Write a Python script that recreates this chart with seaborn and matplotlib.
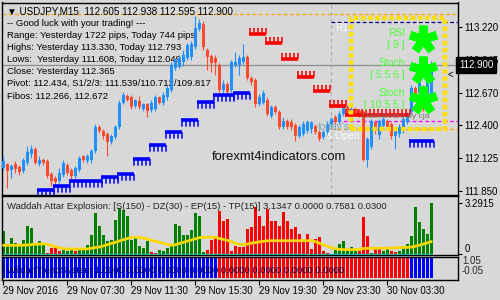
import numpy as np
import matplotlib
matplotlib.use("Agg")
import matplotlib.pyplot as plt
import seaborn as sns
from matplotlib.patches import Rectangle
from matplotlib.transforms import blended_transform_factory

# ---------------- data ----------------
symbol_title = "\u25BC USDJPY,M15  112.605 112.938 112.595 112.900"
info_lines = [
    "-- Good luck with your trading! ---",
    "Range: Yesterday 1722 pips, Today 744 pips",
    "Highs: Yesterday 113.330, Today 112.793",
    "Lows:  Yesterday 111.608, Today 112.049",
    "Close: Yesterday 112.365",
    "Pivot: 112.434, S1/2/3: 111.539/110.712/109.817",
    "Fibos: 112.266, 112.672",
]
opens = [112.038,112.070,112.021,112.070,112.046,112.013,112.078,112.160,112.202,112.070,
         112.103,112.095,111.988,111.955,111.931,111.980,112.062,112.021,111.972,112.021,
         112.136,112.095,112.103,112.185,112.382,112.349,112.325,112.259,112.300,112.382,
         112.587,112.645,112.629,112.555,112.596,112.530,112.571,112.522,112.530,112.629,
         112.579,112.629,112.694,112.875,112.883,112.924,112.957,112.965,113.047,113.203,
         113.244,113.023,112.973,112.957,112.899,112.694,112.743,112.694,112.899,112.899,
         112.924,112.965,112.793,112.776,112.571,112.587,112.612,112.472,112.546,112.505,
         112.382,112.431,112.423,112.399,112.308,112.325,112.349,112.366,112.390,112.341,
         112.300,112.341,112.407,112.464,112.423,112.489,112.546,112.505,112.530,112.513,
         112.505,112.103,112.218,112.423,112.316,112.390,112.431,112.407,112.308,112.325,
         112.349,112.423,112.505,112.710,112.670,112.719,112.555,112.605]
closes = [112.095,112.013,112.054,112.029,112.004,112.103,112.177,112.202,112.078,112.103,
          112.078,111.972,111.931,111.922,111.996,112.078,111.996,111.972,112.038,112.119,
          112.103,112.136,112.185,112.382,112.349,112.308,112.259,112.308,112.382,112.587,
          112.653,112.612,112.546,112.604,112.546,112.571,112.513,112.587,112.637,112.587,
          112.653,112.710,112.899,112.940,112.957,112.981,113.064,113.080,113.211,113.252,
          113.047,112.965,112.916,112.916,112.694,112.743,112.678,112.924,112.924,112.957,
          112.965,112.793,112.760,112.571,112.637,112.670,112.489,112.546,112.505,112.382,
          112.431,112.382,112.382,112.308,112.382,112.407,112.423,112.423,112.341,112.284,
          112.341,112.407,112.448,112.423,112.489,112.546,112.505,112.530,112.497,112.489,
          112.103,112.284,112.431,112.349,112.431,112.448,112.382,112.308,112.349,112.382,
          112.448,112.489,112.710,112.637,112.801,112.530,112.883,112.900]
highs = [112.144,112.078,112.070,112.095,112.062,112.119,112.226,112.234,112.218,112.136,
         112.119,112.111,112.004,111.972,112.038,112.103,112.078,112.038,112.054,112.144,
         112.152,112.160,112.202,112.407,112.399,112.366,112.341,112.325,112.399,112.612,
         112.678,112.661,112.653,112.620,112.645,112.587,112.587,112.612,112.653,112.645,
         112.678,112.735,112.924,112.957,112.981,113.023,113.088,113.105,113.310,113.285,
         113.269,113.039,112.990,112.981,112.916,112.776,112.760,112.940,113.006,112.981,
         113.080,112.981,112.809,112.793,112.661,112.694,112.629,112.563,112.563,112.522,
         112.464,112.448,112.448,112.415,112.399,112.431,112.440,112.431,112.407,112.358,
         112.358,112.431,112.464,112.481,112.513,112.571,112.563,112.546,112.546,112.530,
         112.522,112.300,112.448,112.440,112.448,112.464,112.448,112.423,112.374,112.407,
         112.464,112.505,112.735,112.727,112.817,112.735,112.899,112.938]
lows = [112.021,111.873,111.955,111.996,111.980,111.996,112.062,112.119,112.070,112.054,
        112.062,111.955,111.890,111.906,111.914,111.963,111.980,111.947,111.955,112.004,
        112.087,112.078,112.078,112.169,112.333,112.284,112.144,112.243,112.284,112.366,
        112.571,112.596,112.530,112.538,112.530,112.513,112.464,112.505,112.513,112.571,
        112.563,112.612,112.678,112.858,112.875,112.891,112.940,112.940,113.031,113.187,
        113.023,112.858,112.842,112.817,112.678,112.670,112.653,112.678,112.883,112.817,
        112.908,112.776,112.735,112.546,112.555,112.571,112.472,112.456,112.489,112.366,
        112.366,112.366,112.358,112.267,112.292,112.308,112.333,112.333,112.325,112.267,
        112.284,112.316,112.390,112.407,112.407,112.472,112.489,112.489,112.481,112.464,
        112.095,112.049,112.202,112.325,112.284,112.366,112.358,112.284,112.202,112.300,
        112.333,112.407,112.489,112.612,112.653,112.513,112.530,112.595]

# trailing-stop comb indicator: (first bar, last bar, level)
blue_stops = [(9, 12, 111.839), (13, 16, 111.872), (17, 24, 111.914), (25, 28, 111.947),
              (29, 32, 111.972), (33, 36, 112.098), (37, 40, 112.215), (41, 44, 112.324),
              (45, 48, 112.424), (49, 52, 112.574), (53, 57, 112.633), (58, 61, 112.650),
              (102, 107, 112.248)]
red_stops = [(62, 65, 113.176), (66, 69, 113.101), (70, 73, 112.967), (74, 77, 112.817),
             (78, 81, 112.700), (82, 85, 112.574), (86, 101, 112.499)]

bid = 112.900
yesterday_high = 113.330
r1 = 113.260
pivot = 112.434
yesterday_close = 112.365
day_start_bar = 82
price_ticks = [113.220, 112.945, 112.670, 112.400, 112.125, 111.850]

wae_values = [1.46,0.49,1.03,0.71,0.60,0.92,1.78,1.68,0.60,0.82,
              0.60,0.06,0.39,0.49,0.17,0.28,0.17,0.39,0.17,0.28,
              0.39,0.60,1.25,2.65,1.78,1.25,0.82,0.92,2.22,2.97,
              2.86,2.43,0.92,1.14,0.49,0.39,0.82,0.13,0.06,0.28,
              0.17,0.39,0.60,1.94,1.78,1.25,1.25,1.57,2.65,2.43,
              0.13,0.28,0.92,1.03,2.75,2.11,2.26,0.22,0.54,0.43,
              0.43,1.61,1.72,3.01,2.47,1.83,2.90,2.15,2.15,1.83,
              2.69,2.15,1.61,1.72,1.29,0.75,1.29,0.32,0.97,1.08,
              0.22,0.06,0.02,0.32,0.65,0.86,0.32,0.43,0.22,0.22,
              2.37,1.18,0.06,0.32,0.32,0.22,0.43,0.22,0.11,0.22,
              0.54,0.65,1.18,3.01,2.04,1.61,1.29,3.29]
wae_dir = ("GGGGGGGGGG" "GRRRRGGGRG" "GGGGGGGGGG" "GGGGGGGRRG" "GGGGGGGGGG"
           "GRRRRRRRRR" "RRRRRRRRRR" "RRRRRRRRRR" "RRGGGGGGGR" "RRGRRGGRRG" "GGGGGGGG")
wae_line = [0.56,0.56,0.56,0.56,0.56,0.57,0.58,0.61,0.63,0.64,
            0.65,0.62,0.56,0.48,0.40,0.34,0.32,0.32,0.32,0.32,
            0.32,0.33,0.37,0.42,0.45,0.52,0.60,0.68,0.75,0.84,
            0.92,1.00,1.06,1.08,1.06,1.03,0.96,0.89,0.82,0.75,
            0.68,0.62,0.56,0.60,0.68,0.75,0.83,0.90,0.98,1.05,
            1.08,1.08,1.08,1.07,1.00,0.94,0.88,0.80,0.68,0.62,
            0.60,0.64,0.70,0.74,0.78,0.82,0.85,0.86,0.86,0.86,
            0.86,0.86,0.86,0.86,0.86,0.86,0.86,0.86,0.80,0.70,
            0.58,0.50,0.40,0.34,0.30,0.28,0.28,0.28,0.28,0.30,
            0.36,0.37,0.37,0.37,0.37,0.37,0.37,0.38,0.40,0.41,
            0.42,0.43,0.44,0.50,0.57,0.64,0.72,0.80]
wae_deadzone = 0.03
wae_title = "Waddah Attar Explosion: [S(150) - DZ(30) - EP(15) - TP(15)] 3.1347 0.0000 0.7581 0.0300"

trend_segments = [(0, 53, "up"), (54, 101, "down"), (102, 107, "up")]
trend_title = "WildanTrendSystem 1.0000 0.0000 0.0000 0.0000 0.0000 0.0000 0.0000 0.0000"

time_tick_bars = [0, 16, 32, 48, 64, 80, 96]
time_tick_labels = ["29 Nov 2016", "29 Nov 07:30", "29 Nov 11:30", "29 Nov 15:30",
                    "29 Nov 19:30", "29 Nov 23:30", "30 Nov 03:30"]

# ---------------- style ----------------
BG = "#d8d8d8"
BULL = "#1e90ff"
BEAR = "#ff4a2e"
FS = 6.8
sns.set_theme(style="white")
plt.rcParams["font.family"] = ["Liberation Sans", "DejaVu Sans"]
plt.rcParams["axes.linewidth"] = 1.0

fig = plt.figure(figsize=(5, 3), dpi=100, facecolor=BG)
W, H = 500.0, 300.0


def add_px_axes(left, top, right, bottom):
    a = fig.add_axes([left / W, 1 - bottom / H, (right - left) / W, (bottom - top) / H])
    a.set_facecolor(BG)
    for s in a.spines.values():
        s.set_color("black")
        s.set_linewidth(1.0)
    return a


L, R = 2, 457.5
MT, MB = 2.5, 194.5
ax = add_px_axes(L, MT, R, MB)
ax2 = add_px_axes(L, 196, R, 255)
ax3 = add_px_axes(L, 257, R, 279.5)

n = len(opens)
x = np.arange(n)
XL = (-0.33, 113.55)
for a in (ax, ax2, ax3):
    a.set_xlim(*XL)


def main_frac(px, py):
    return ((px - L) / (R - L), (MB - py) / (MB - MT))


# ---------------- main price panel ----------------
ax.set_ylim(111.818, 113.423)
o = np.array(opens); c = np.array(closes); h = np.array(highs); lo = np.array(lows)
cols = np.where(c >= o, BULL, BEAR)
ax.vlines(x, lo, h, colors=cols, lw=0.8, zorder=3)
ax.bar(x, np.maximum(np.abs(c - o), 0.004), bottom=np.minimum(o, c), width=0.72,
       color=cols, linewidth=0, zorder=3)

# reference lines
ax.axhline(bid, color="#8c8c8c", lw=0.9, zorder=1)
ax.axhline(yesterday_high, color="#ffa500", lw=0.9, ls=(0, (3, 2)), zorder=1)
ax.axvline(day_start_bar, color="#a8a8a8", lw=0.8, ls=(0, (3, 3)), zorder=1)
ax.hlines([r1, pivot, yesterday_close], day_start_bar, XL[1],
          colors=["#00008b", "#ff00ff", "#ffa500"], lw=0.9, ls=(0, (3, 2)), zorder=1)

# comb markers: thick bar across the group with evenly spaced legs
for segs, col, sgn in ((blue_stops, "#0000ff", 1), (red_stops, "#ff0000", -1)):
    for s, e, lv in segs:
        bar_y = lv + sgn * 0.020
        foot_y = lv - sgn * 0.034
        ax.hlines(bar_y, s - 0.6, e + 0.6, colors=col, lw=2.6, zorder=4)
        legs = np.arange(s - 0.4, e + 0.7, 1.0)
        ax.vlines(legs, np.full(len(legs), bar_y), np.full(len(legs), foot_y),
                  colors=col, lw=1.1, zorder=4)
        ax.hlines(np.full(len(legs), foot_y), legs - 0.15, legs + 0.15, colors=col,
                  lw=0.8, zorder=4)

# header texts (drawn below candles)
fx, fy = main_frac(7, 11)
ax.text(fx, fy, symbol_title, transform=ax.transAxes,
        fontsize=FS + 0.3, va="center", ha="left", color="black", zorder=2)
for line, py in zip(info_lines, [24, 35.5, 47.5, 59.5, 71.5, 83.5, 96]):
    fx, fy = main_frac(7, py)
    ax.text(fx, fy, line, transform=ax.transAxes, fontsize=FS, va="center", ha="left",
            color="black", zorder=2)

fx, fy = main_frac(212, 157)
ax.text(fx, fy, "forexmt4indicators.com", transform=ax.transAxes, fontsize=9.4,
        va="center", ha="left", color="#111111", zorder=5)

fx, fy = main_frac(335, 28)
ax.text(fx, fy, "R1", transform=ax.transAxes, fontsize=7.3, color="white", va="center", zorder=5)
fx, fy = main_frac(318, 127)
ax.text(fx, fy, "today's", transform=ax.transAxes, fontsize=7.3, color="#7aa6b8", va="center", zorder=5)
fx, fy = main_frac(325, 136)
ax.text(fx, fy, "'s Open", transform=ax.transAxes, fontsize=7.3, color="white", va="center", zorder=5)
fx, fy = main_frac(362, 117)
ax.text(fx, fy, "DashBoard by cja", transform=ax.transAxes, fontsize=6.1, color="#777777",
        va="center", zorder=5)
fx, fy = main_frac(448, 75)
ax.text(fx, fy, "<", transform=ax.transAxes, fontsize=7, color="black", va="center", zorder=5)

# dashboard box
bx0, by0 = main_frac(351, 128.5)
bx1, by1 = main_frac(445, 17.5)
ax.add_patch(Rectangle((bx0, by0), bx1 - bx0, by1 - by0, transform=ax.transAxes, fill=False,
                       ec="#ffe000", lw=3.2, ls=(0, (1, 0.6)), zorder=4))
dash_txt = [("RSI", 32.5), ("[ 9 ]", 45), ("Stoch", 62.5), ("[ 5 5 6 ]", 75.5),
            ("Stoch", 92.5), ("[ 10 5 5 ]", 105.5)]
for s, py in dash_txt:
    fx, fy = main_frac(405, py)
    ax.text(fx, fy, s, transform=ax.transAxes, fontsize=7.5, color="#4cff3c", ha="right",
            va="center", zorder=5)
for py in (39, 70, 100):
    fx, fy = main_frac(423, py)
    ax.plot([fx], [fy], transform=ax.transAxes, marker=(5, 2, 0), ms=20, mew=6,
            mec="#00ff00", ls="none", zorder=6, clip_on=False)

# price axis
ax.yaxis.tick_right()
ax.set_yticks(price_ticks)
ax.set_yticklabels([f"{t:.3f}" for t in price_ticks])
ax.tick_params(axis="y", direction="out", length=3, width=0.8, pad=2, labelsize=7,
               colors="black", right=True, left=False)
ax.tick_params(axis="x", bottom=False, labelbottom=False)
tr = blended_transform_factory(ax.transAxes, ax.transData)
ax.text(1.003, bid, "112.900", transform=tr, fontsize=7, color="white", va="center", ha="left",
        bbox=dict(boxstyle="square,pad=0.28", fc="black", ec="black"), zorder=10, clip_on=False)

# ---------------- Waddah Attar Explosion panel ----------------
wcols = ["#008000" if d == "G" else "#ff0000" for d in wae_dir]
ax2.bar(x, wae_values, width=0.72, color=wcols, linewidth=0, zorder=2)
sns.lineplot(x=x, y=[wae_deadzone] * n, ax=ax2, color="#20b2aa", lw=1.0, zorder=3)
sns.lineplot(x=x, y=wae_line, ax=ax2, color="#ffd700", lw=2.0, zorder=4)
ax2.set_xlim(*XL)
ax2.set_ylim(-0.065, 3.74)
ax2.set_xlabel(""); ax2.set_ylabel("")
ax2.text(0.011, 0.83, wae_title, transform=ax2.transAxes, fontsize=FS, color="#222222",
         va="center", ha="left", zorder=5)
ax2.yaxis.tick_right()
ax2.set_yticks([3.2915, 0])
ax2.set_yticklabels(["3.2915", "0"])
ax2.tick_params(axis="y", direction="out", length=3, width=0.8, pad=2, labelsize=7,
                colors="black", right=True, left=False)
ax2.get_yticklabels()[1].set_va("bottom")
ax2.tick_params(axis="x", bottom=False, labelbottom=False)

# ---------------- trend panel ----------------
ax3.set_ylim(-0.05, 1.05)
for s, e, d in trend_segments:
    xs = np.arange(s, e + 1)
    ax3.bar(xs, [1.0] * len(xs), width=0.75, color="#0000ff" if d == "up" else "#ff0000",
            linewidth=0, zorder=2)
ax3.text(0.011, 0.42, trend_title, transform=ax3.transAxes, fontsize=FS, color="#000050",
         va="center", ha="left", zorder=5)
ax3.set_yticks([])
ax3.text(1.01, 0.80, "1.05", transform=ax3.transAxes, fontsize=7, va="center", ha="left")
ax3.text(1.01, 0.38, "-0.05", transform=ax3.transAxes, fontsize=7, va="center", ha="left")
ax3.set_xticks(time_tick_bars)
ax3.set_xticklabels(time_tick_labels)
ax3.tick_params(axis="x", direction="out", length=3.5, width=0.8, pad=1.2, labelsize=7,
                colors="black", bottom=True)
for lbl in ax3.get_xticklabels():
    lbl.set_ha("left")

fig.savefig("out.png", dpi=100, facecolor=BG)
